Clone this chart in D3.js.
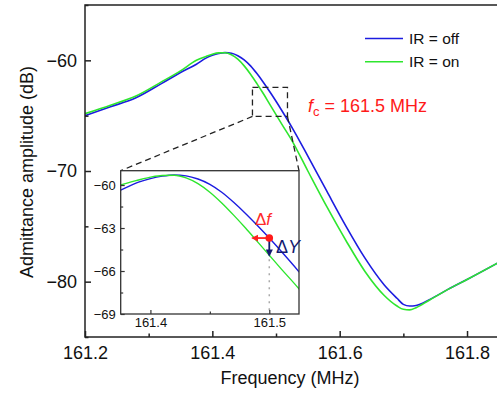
<!DOCTYPE html>
<html>
<head>
<meta charset="utf-8">
<script src="https://cdn.jsdelivr.net/npm/d3@7"></script>
<style>
  body { margin: 0; background: #fff; }
  svg { font-family: "Liberation Sans", Arial, sans-serif; }
</style>
</head>
<body>
<div class="canvas"></div>
<script>
const freq  = [161.20, 161.24, 161.28, 161.32, 161.35, 161.375, 161.39, 161.40, 161.41, 161.42,
               161.43, 161.44, 161.45, 161.46, 161.47, 161.48, 161.49, 161.50, 161.51, 161.525,
               161.55, 161.58, 161.61, 161.64, 161.67, 161.69, 161.70, 161.71, 161.72, 161.74,
               161.77, 161.80, 161.85];
const irOff = [-65.0, -64.2, -63.38, -62.1, -61.1, -60.35, -59.8, -59.55, -59.38, -59.3,
               -59.36, -59.58, -59.95, -60.5, -61.2, -61.98, -62.82, -63.7, -64.62, -66.05,
               -68.65, -71.85, -75.0, -77.9, -80.3, -81.5, -82.05, -82.2, -82.15, -81.65,
               -80.7, -79.8, -78.25];
const irOn  = [-64.82, -64.05, -63.22, -61.95, -60.95, -60.0, -59.65, -59.45, -59.33, -59.32,
               -59.5, -59.9, -60.5, -61.25, -62.1, -63.0, -63.95, -64.9, -65.85, -67.25,
               -70.0, -73.25, -76.3, -79.1, -81.25, -82.2, -82.5, -82.55, -82.35, -81.7,
               -80.7, -79.8, -78.25];
const seriesNames = ['IR = off', 'IR = on'];
const seriesColors = ['#1c1ce0', '#2ee62e'];

const xTicks = [161.2, 161.4, 161.6, 161.8];
const xMinor = [161.3, 161.5, 161.7, 161.9];
const yTicks = [-80, -70, -60];
const yMinor = [-85, -75, -65, -55];

const insetXTicks = [161.4, 161.5];
const insetXMinor = [161.45];
const insetYTicks = [-69, -66, -63, -60];
const insetYMinor = [-67.5, -64.5, -61.5];

// zoom window marked on the main plot, and the marker in the inset
const zoomBoxF = [161.463, 161.518];
const zoomBoxY = [-62.44, -65.07];
const fc = 161.5;
const markerY = -63.7;      // IR = off at fc
const shiftedF = 161.486;   // where IR = on reaches the same value
const markerDrop = -64.9;   // IR = on at fc

const svg = d3.select('.canvas')
  .append('svg')
    .attr('width', 497)
    .attr('height', 395);

const defs = svg.append('defs');

// main plot
const x = d3.scaleLinear().domain([161.2, 161.9]).range([85, 530.7]);
const y = d3.scaleLinear().domain([-85, -55]).range([337, 5]);

const main = svg.append('g');

defs.append('clipPath').attr('id', 'mainClip')
  .append('rect').attr('x', 85).attr('y', 5).attr('width', 412).attr('height', 332);

const lineMain = d3.line()
  .x(d => x(d[0]))
  .y(d => y(d[1]))
  .curve(d3.curveMonotoneX);

[irOff, irOn].forEach((vals, i) => {
  main.append('path')
    .datum(freq.map((f, j) => [f, vals[j]]))
    .attr('d', lineMain)
    .attr('fill', 'none')
    .attr('stroke', seriesColors[i])
    .attr('stroke-width', 1.6)
    .attr('clip-path', 'url(#mainClip)');
});

// frame
main.append('rect')
  .attr('x', x(161.2)).attr('y', y(-55))
  .attr('width', x(161.9) - x(161.2)).attr('height', y(-85) - y(-55))
  .attr('fill', 'none').attr('stroke', '#222').attr('stroke-width', 1.5);

// axes
const xAxisG = main.append('g').attr('transform', `translate(0,${y(-85)})`);
xAxisG.call(d3.axisBottom(x).tickValues(xTicks).tickSize(-6).tickPadding(9.5).tickFormat(d3.format('.1f')));
const xMinorG = main.append('g').attr('transform', `translate(0,${y(-85)})`);
xMinorG.call(d3.axisBottom(x).tickValues(xMinor).tickSize(-3.5).tickFormat(''));

const yAxisG = main.append('g').attr('transform', `translate(${x(161.2)},0)`);
yAxisG.call(d3.axisLeft(y).tickValues(yTicks).tickSize(-6).tickPadding(8));
const yMinorG = main.append('g').attr('transform', `translate(${x(161.2)},0)`);
yMinorG.call(d3.axisLeft(y).tickValues(yMinor).tickSize(-3.5).tickFormat(''));

[xAxisG, xMinorG, yAxisG, yMinorG].forEach(g => {
  g.select('.domain').remove();
  g.selectAll('line').attr('stroke', '#222').attr('stroke-width', 1.5);
  g.selectAll('text').attr('font-size', 18).attr('fill', '#111')
    .attr('font-family', '"Liberation Sans", Arial, sans-serif');
});

// axis titles
svg.append('text')
  .attr('x', 290).attr('y', 384)
  .attr('text-anchor', 'middle')
  .attr('font-size', 18).attr('fill', '#111')
  .text('Frequency (MHz)');

svg.append('text')
  .attr('transform', 'translate(33,172) rotate(-90)')
  .attr('text-anchor', 'middle')
  .attr('font-size', 18).attr('fill', '#111')
  .text('Admittance amplitude (dB)');

// legend
seriesNames.forEach((name, i) => {
  const ly = 38.5 + i * 23.3;
  svg.append('line')
    .attr('x1', 365).attr('x2', 403).attr('y1', ly).attr('y2', ly)
    .attr('stroke', seriesColors[i]).attr('stroke-width', 1.6);
  svg.append('text')
    .attr('x', 409).attr('y', ly + 5.5)
    .attr('font-size', 15.5).attr('fill', '#111')
    .text(name);
});

// fc label
const fcText = svg.append('text')
  .attr('x', 308).attr('y', 111.5)
  .attr('font-size', 18).attr('fill', '#ff1a1a');
fcText.append('tspan').attr('font-style', 'italic').text('f');
fcText.append('tspan').attr('font-size', 13).attr('dy', 4).text('c');
fcText.append('tspan').attr('dy', -4).text(' = 161.5 MHz');

// dashed zoom box and connectors
const ix = d3.scaleLinear().domain([161.375, 161.525]).range([120.7, 299]);
const iy = d3.scaleLinear().domain([-69, -59]).range([314, 170.7]);

svg.append('rect')
  .attr('x', x(zoomBoxF[0])).attr('y', y(zoomBoxY[0]))
  .attr('width', x(zoomBoxF[1]) - x(zoomBoxF[0]))
  .attr('height', y(zoomBoxY[1]) - y(zoomBoxY[0]))
  .attr('fill', 'none').attr('stroke', '#222').attr('stroke-width', 1.3)
  .attr('stroke-dasharray', '6,4');

[[zoomBoxF[0], ix.range()[0]], [zoomBoxF[1], ix.range()[1]]].forEach(([f, px]) => {
  svg.append('line')
    .attr('x1', x(f)).attr('y1', y(zoomBoxY[1]))
    .attr('x2', px).attr('y2', iy.range()[1])
    .attr('stroke', '#222').attr('stroke-width', 1.3)
    .attr('stroke-dasharray', '6,4');
});

// inset
const inset = svg.append('g');
inset.append('rect')
  .attr('x', ix.range()[0]).attr('y', iy.range()[1])
  .attr('width', ix.range()[1] - ix.range()[0])
  .attr('height', iy.range()[0] - iy.range()[1])
  .attr('fill', '#fff');

defs.append('clipPath').attr('id', 'insetClip')
  .append('rect')
    .attr('x', ix.range()[0]).attr('y', iy.range()[1])
    .attr('width', ix.range()[1] - ix.range()[0])
    .attr('height', iy.range()[0] - iy.range()[1]);

const lineInset = d3.line()
  .x(d => ix(d[0]))
  .y(d => iy(d[1]))
  .curve(d3.curveMonotoneX);

[irOff, irOn].forEach((vals, i) => {
  inset.append('path')
    .datum(freq.map((f, j) => [f, vals[j]]).filter(d => d[0] >= 161.35 && d[0] <= 161.55))
    .attr('d', lineInset)
    .attr('fill', 'none')
    .attr('stroke', seriesColors[i])
    .attr('stroke-width', 1.4)
    .attr('clip-path', 'url(#insetClip)');
});

// dotted guide at fc
inset.append('line')
  .attr('x1', ix(fc)).attr('x2', ix(fc))
  .attr('y1', iy(markerDrop) + 4).attr('y2', iy.range()[0])
  .attr('stroke', '#aaa').attr('stroke-width', 1.5)
  .attr('stroke-dasharray', '2,5');

// Δf and ΔY arrows
defs.append('marker').attr('id', 'arrRed')
  .attr('viewBox', '0 0 10 10').attr('refX', 8).attr('refY', 5)
  .attr('markerWidth', 4).attr('markerHeight', 4).attr('orient', 'auto')
  .append('path').attr('d', 'M0,0L10,5L0,10z').attr('fill', '#ff2020');
defs.append('marker').attr('id', 'arrNavy')
  .attr('viewBox', '0 0 10 10').attr('refX', 8).attr('refY', 5)
  .attr('markerWidth', 4).attr('markerHeight', 4).attr('orient', 'auto')
  .append('path').attr('d', 'M0,0L10,5L0,10z').attr('fill', '#141a70');

inset.append('line')
  .attr('x1', ix(fc)).attr('x2', ix(shiftedF))
  .attr('y1', iy(markerY)).attr('y2', iy(markerY))
  .attr('stroke', '#ff2020').attr('stroke-width', 1.8)
  .attr('marker-end', 'url(#arrRed)');

inset.append('line')
  .attr('x1', ix(fc)).attr('x2', ix(fc))
  .attr('y1', iy(markerY)).attr('y2', iy(markerDrop))
  .attr('stroke', '#141a70').attr('stroke-width', 1.8)
  .attr('marker-end', 'url(#arrNavy)');

inset.append('circle')
  .attr('cx', ix(fc)).attr('cy', iy(markerY)).attr('r', 3.8)
  .attr('fill', '#ff1a1a');

const dfText = svg.append('text')
  .attr('x', 255).attr('y', 225)
  .attr('font-size', 17).attr('fill', '#ff2a2a');
dfText.append('tspan').text('Δ');
dfText.append('tspan').attr('font-style', 'italic').text('f');

const dyText = svg.append('text')
  .attr('x', 276).attr('y', 253)
  .attr('font-size', 18).attr('fill', '#141a70');
dyText.append('tspan').text('Δ');
dyText.append('tspan').attr('font-style', 'italic').text('Y');

// inset frame and axes
inset.append('rect')
  .attr('x', ix.range()[0]).attr('y', iy.range()[1])
  .attr('width', ix.range()[1] - ix.range()[0])
  .attr('height', iy.range()[0] - iy.range()[1])
  .attr('fill', 'none').attr('stroke', '#333').attr('stroke-width', 1.3);

const ixAxisG = inset.append('g').attr('transform', `translate(0,${iy.range()[0]})`);
ixAxisG.call(d3.axisBottom(ix).tickValues(insetXTicks).tickSize(-4).tickPadding(4).tickFormat(d3.format('.1f')));
const ixMinorG = inset.append('g').attr('transform', `translate(0,${iy.range()[0]})`);
ixMinorG.call(d3.axisBottom(ix).tickValues(insetXMinor).tickSize(-2.5).tickFormat(''));
const iyAxisG = inset.append('g').attr('transform', `translate(${ix.range()[0]},0)`);
iyAxisG.call(d3.axisLeft(iy).tickValues(insetYTicks).tickSize(-4).tickPadding(5).tickFormat(d3.format('d')));
const iyMinorG = inset.append('g').attr('transform', `translate(${ix.range()[0]},0)`);
iyMinorG.call(d3.axisLeft(iy).tickValues(insetYMinor).tickSize(-2.5).tickFormat(''));

[ixAxisG, ixMinorG, iyAxisG, iyMinorG].forEach(g => {
  g.select('.domain').remove();
  g.selectAll('line').attr('stroke', '#333').attr('stroke-width', 1.2);
  g.selectAll('text').attr('font-size', 13).attr('fill', '#111')
    .attr('font-family', '"Liberation Sans", Arial, sans-serif');
});
</script>
</body>
</html>
